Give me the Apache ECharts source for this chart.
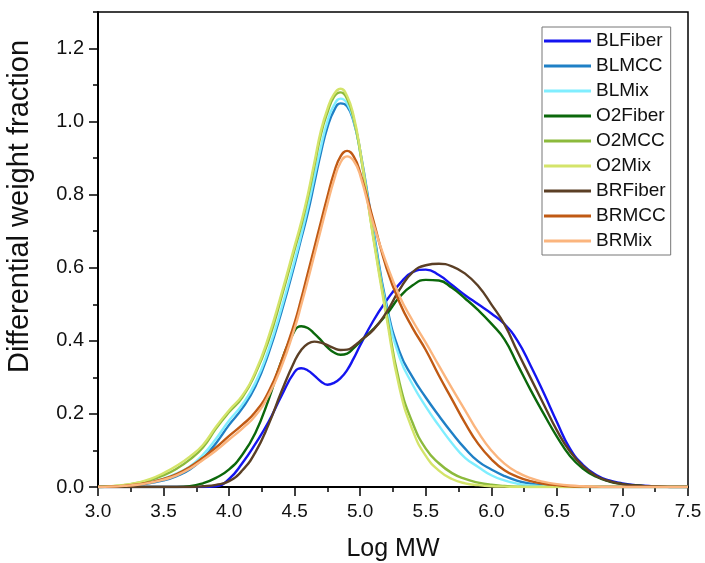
<!DOCTYPE html>
<html>
<head>
<meta charset="utf-8">
<script src="https://cdn.jsdelivr.net/npm/echarts@6/dist/echarts.min.js"></script>
<style>
html,body{margin:0;padding:0;background:#fff;}
#c{width:705px;height:563px;}
</style>
</head>
<body>
<div id="c"></div>
<script>
// Shared Log MW grid
const logMW = [3.0,3.1,3.2,3.3,3.4,3.5,3.6,3.7,3.8,3.9,
  4.0,4.1,4.2,4.3,4.4,4.5,4.55,4.6,4.65,4.7,4.75,4.8,
  4.85,4.9,4.95,5.0,5.1,5.2,5.3,5.4,5.5,5.6,
  5.7,5.8,5.9,6.0,6.1,6.2,6.3,6.4,6.5,6.6,
  6.7,6.8,6.9,7.0,7.1,7.2,7.3,7.4,7.5];

const seriesNames = ['BLFiber','BLMCC','BLMix','O2Fiber','O2MCC','O2Mix','BRFiber','BRMCC','BRMix'];

const BLFiber = [0,0,0,0,0,0,0,0,0,0.002,
  0.022,0.065,0.118,0.178,0.25,0.315,0.325,0.319,0.305,0.289,0.28,0.285,
  0.298,0.32,0.352,0.388,0.455,0.51,0.556,0.588,0.595,0.58,
  0.553,0.525,0.5,0.475,0.446,0.4,0.332,0.257,0.178,0.105,
  0.06,0.033,0.018,0.01,0.005,0.003,0.001,0,0];

const BLMCC = [0,0.001,0.003,0.006,0.011,0.018,0.03,0.048,0.078,0.12,
  0.17,0.215,0.275,0.365,0.48,0.61,0.68,0.75,0.832,0.915,0.985,1.03,
  1.05,1.042,1.0,0.92,0.705,0.5,0.37,0.3,0.245,0.195,
  0.148,0.105,0.07,0.048,0.03,0.017,0.009,0.004,0.002,0.001,
  0,0,0,0,0,0,0,0,0];

const BLMix = [0,0.001,0.004,0.008,0.014,0.023,0.037,0.056,0.088,0.132,
  0.182,0.225,0.285,0.375,0.49,0.62,0.69,0.765,0.848,0.93,1.0,1.045,
  1.063,1.05,1.003,0.915,0.695,0.49,0.355,0.28,0.22,0.168,
  0.12,0.08,0.055,0.032,0.018,0.009,0.004,0.002,0.001,0,
  0,0,0,0,0,0,0,0,0];

const O2Fiber = [0,0,0,0,0,0,0,0.002,0.01,0.025,
  0.048,0.088,0.148,0.238,0.345,0.428,0.44,0.435,0.42,0.402,0.382,0.368,
  0.362,0.365,0.38,0.398,0.432,0.472,0.52,0.552,0.567,0.565,
  0.545,0.516,0.484,0.447,0.404,0.335,0.265,0.2,0.138,0.085,
  0.05,0.028,0.015,0.008,0.004,0.002,0.001,0,0];

const O2MCC = [0,0.002,0.005,0.011,0.019,0.032,0.05,0.075,0.108,0.16,
  0.205,0.245,0.31,0.4,0.52,0.65,0.715,0.79,0.877,0.965,1.025,1.068,
  1.08,1.062,1.008,0.915,0.685,0.475,0.285,0.175,0.105,0.065,
  0.038,0.022,0.012,0.006,0.003,0.001,0,0,0,0,
  0,0,0,0,0,0,0,0,0];

const O2Mix = [0,0.002,0.006,0.012,0.022,0.038,0.058,0.083,0.115,0.165,
  0.21,0.25,0.315,0.41,0.53,0.66,0.725,0.8,0.888,0.975,1.035,1.075,
  1.09,1.07,1.015,0.92,0.68,0.465,0.27,0.155,0.085,0.045,
  0.022,0.01,0.005,0.002,0.001,0,0,0,0,0,
  0,0,0,0,0,0,0,0,0];

const BRFiber = [0,0,0,0,0,0,0,0,0.002,0.006,
  0.016,0.045,0.095,0.17,0.262,0.345,0.375,0.392,0.398,0.395,0.388,0.38,
  0.375,0.376,0.385,0.4,0.43,0.478,0.54,0.588,0.607,0.611,
  0.604,0.584,0.55,0.5,0.445,0.37,0.298,0.226,0.155,0.097,
  0.057,0.03,0.016,0.008,0.004,0.002,0.001,0,0];

const BRMCC = [0,0.001,0.003,0.007,0.013,0.022,0.035,0.055,0.08,0.108,
  0.14,0.17,0.205,0.26,0.345,0.45,0.515,0.585,0.655,0.725,0.795,0.86,
  0.905,0.92,0.905,0.86,0.73,0.6,0.505,0.435,0.375,0.305,
  0.24,0.175,0.118,0.076,0.046,0.028,0.016,0.009,0.005,0.002,
  0.001,0,0,0,0,0,0,0,0];

const BRMix = [0,0.001,0.003,0.006,0.012,0.02,0.032,0.05,0.074,0.1,
  0.13,0.16,0.195,0.25,0.33,0.435,0.498,0.565,0.635,0.705,0.775,0.84,
  0.888,0.905,0.893,0.853,0.72,0.612,0.522,0.455,0.395,0.332,
  0.27,0.21,0.15,0.1,0.064,0.04,0.024,0.014,0.008,0.004,
  0.002,0.001,0,0,0,0,0,0,0];

const yMajorTicks = [0,0.2,0.4,0.6,0.8,1.0,1.2];

const colors = ['#1414f0','#1f80c6','#80eeff','#0b680b','#8cba3c','#d4e46a','#5b3f25','#c05a14','#fbb57e'];
const values = [BLFiber,BLMCC,BLMix,O2Fiber,O2MCC,O2Mix,BRFiber,BRMCC,BRMix];

const FONT = 'Liberation Sans, Arial, sans-serif';

const chart = echarts.init(document.getElementById('c'), null, {renderer:'canvas'});

const series = seriesNames.map((name, i) => ({
  name: name,
  type: 'line',
  xAxisIndex: 0,
  yAxisIndex: 0,
  data: logMW.map((x, k) => [x, values[i][k]]),
  smooth: 0.5,
  symbol: 'none',
  showSymbol: false,
  lineStyle: {color: colors[i], width: 2.4},
  itemStyle: {color: colors[i]},
  emphasis: {disabled: true},
  animation: false
}));

chart.setOption({
  animation: false,
  backgroundColor: '#fff',
  grid: {left: 98, right: 17, top: 12, bottom: 76, outerBoundsMode: 'none', containLabel: false,
    show: true, borderColor: '#000', borderWidth: 1.5, backgroundColor: 'transparent'},
  legend: {
    data: seriesNames.map(n => ({name: n, icon: 'rect'})),
    orient: 'vertical',
    left: 542, top: 27,
    padding: [4, 5, 4, 2],
    itemGap: 5,
    itemWidth: 47,
    itemHeight: 3,
    borderColor: '#777', borderWidth: 1,
    backgroundColor: '#fff',
    textStyle: {fontFamily: FONT, fontSize: 19, color: '#111', lineHeight: 20, padding: [0,0,0,0]},
    selectedMode: false
  },
  xAxis: [
    {type: 'value', min: 3, max: 7.5, interval: 0.25, position: 'bottom',
     axisLine: {show: true, onZero: false, lineStyle: {color: '#000', width: 2}},
     axisTick: {show: true, length: 5, lineStyle: {color: '#000', width: 1.5}},
     axisLabel: {show: false}, splitLine: {show: false}},
    {type: 'value', min: 3, max: 7.5, interval: 0.5, position: 'bottom',
     axisLine: {show: false, onZero: false},
     axisTick: {show: true, length: 9, lineStyle: {color: '#000', width: 1.5}},
     axisLabel: {show: true, fontFamily: FONT, fontSize: 19, color: '#111', margin: 15,
       formatter: v => v.toFixed(1)},
     splitLine: {show: false},
     name: 'Log MW', nameLocation: 'middle', nameGap: 50,
     nameTextStyle: {fontFamily: FONT, fontSize: 25, color: '#111'}}
  ],
  yAxis: [
    {type: 'value', min: 0, max: 1.3, interval: 0.1, position: 'left',
     axisLine: {show: true, onZero: false, lineStyle: {color: '#000', width: 2}},
     axisTick: {show: true, length: 5, lineStyle: {color: '#000', width: 1.5}},
     axisLabel: {show: false}, splitLine: {show: false}},
    {type: 'value', min: 0, max: 1.3, interval: 0.2, position: 'left',
     axisLine: {show: false, onZero: false},
     axisTick: {show: true, length: 9, customValues: yMajorTicks, lineStyle: {color: '#000', width: 1.5}},
     axisLabel: {show: true, customValues: yMajorTicks, fontFamily: FONT, fontSize: 20, color: '#111', margin: 14,
       formatter: v => v.toFixed(1)},
     splitLine: {show: false},
     name: 'Differential weight fraction', nameLocation: 'middle', nameGap: 64,
     nameTextStyle: {fontFamily: FONT, fontSize: 29, color: '#111', padding: [0, 0, 0, 86]}}
  ],
  series: series
});
</script>
</body>
</html>
